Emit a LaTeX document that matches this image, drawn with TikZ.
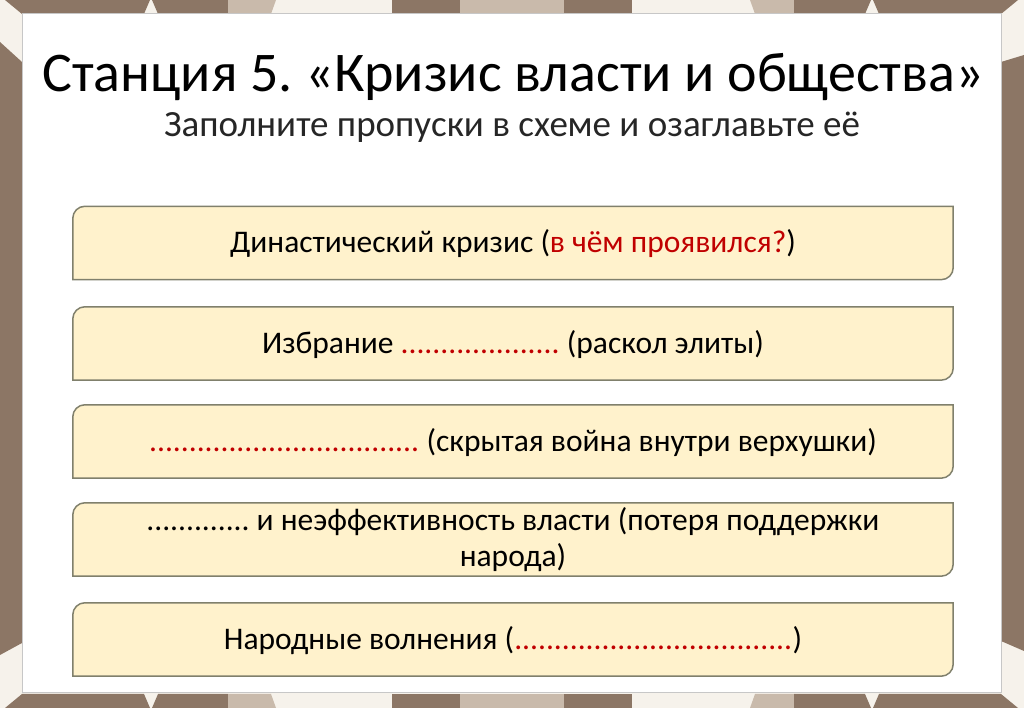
\documentclass[tikz,border=0pt]{standalone}
\usepackage{fontspec}
\setmainfont{Carlito}
\usetikzlibrary{backgrounds}
\frenchspacing
\definecolor{tbrown}{RGB}{140,118,101}
\definecolor{ttaupe}{RGB}{201,186,171}
\definecolor{tcream}{RGB}{246,242,235}
\definecolor{boxfill}{RGB}{255,242,204}
\definecolor{boxline}{RGB}{128,128,108}
\definecolor{darkred}{RGB}{192,0,0}
\newcommand\stageshape[1]{\path[boxshape] ([yshift=-12pt]#1.north west) arc[start angle=180,end angle=90,radius=12pt] -- (#1.north east) -- ([yshift=12pt]#1.south east) arc[start angle=0,end angle=-90,radius=12pt] -- (#1.south west) -- cycle;}
\begin{document}
\begin{tikzpicture}[x=1pt,y=1pt,
  stagebox/.style={minimum width=880pt, minimum height=73pt, inner sep=0pt, font=\fontsize{31.5}{36}\selectfont, align=center},
  oneline/.style={text height=24pt, text depth=4pt},
  boxshape/.style={fill=boxfill, draw=boxline, line width=1.5pt},
  strip/.style={fill=tbrown},
  stripl/.style={fill=ttaupe}]
\useasboundingbox (0,0) rectangle (1024,708);
% --- text nodes (main layer)
\node[font=\fontsize{56}{64}\selectfont, anchor=base] (title) at (513,616) {Станция 5. «Кризис власти и общества»};
\node[font=\fontsize{37}{42}\selectfont, anchor=base, text=black!85] (subtitle) at (512,571) {Заполните пропуски в схеме и озаглавьте её};
\node[stagebox,oneline] (b1) at (513,465) {Династический кризис (\textcolor{darkred}{в чём проявился?})};
\node[stagebox,oneline] (b2) at (513,364.5) {Избрание \textcolor{darkred}{....................} (раскол элиты)};
\node[stagebox,oneline] (b3) at (513,266.5) {\textcolor{darkred}{..................................} (скрытая война внутри верхушки)};
\node[stagebox] (b4) at (513,168.5) {............. и неэффективность власти (потеря поддержки\\народа)};
\node[stagebox,oneline] (b5) at (513,68.5) {Народные волнения (\textcolor{darkred}{...................................})};
\begin{scope}[on background layer]
% tile frame
\fill[tcream] (0,0) rectangle (1024,708);
\foreach \s in {1,-1}{
\begin{scope}[yshift={(\s==1 ? 0 : 708)}, yscale=\s]
\fill[strip] (5,708) -- (150,708) -- (144,694) -- (22,694) -- cycle;
\fill[strip] (152,708) -- (228,708) -- (228,694) -- (158,694) -- cycle;
\fill[stripl] (228,708) -- (276,708) -- (271,694) -- (228,694) -- cycle;
\fill[strip] (392,708) -- (460,708) -- (460,694) -- (392,694) -- cycle;
\fill[stripl] (460,708) -- (564,708) -- (564,694) -- (460,694) -- cycle;
\fill[strip] (564,708) -- (632,708) -- (632,694) -- (564,694) -- cycle;
\fill[stripl] (750,708) -- (794,708) -- (794,694) -- (755,694) -- cycle;
\fill[strip] (794,708) -- (871,708) -- (865,694) -- (794,694) -- cycle;
\fill[strip] (873,708) -- (1018,708) -- (1001,694) -- (879,694) -- cycle;
\end{scope}}
\fill[strip] (0,53) -- (22,65) -- (22,646) -- (0,666) -- cycle;
\fill[strip] (1001,67) -- (1024,57) -- (1024,653) -- (1001,646) -- cycle;
% white panel
\draw[fill=white, draw=black!22, line width=1pt] (22,15) rectangle (1001,694);
\stageshape{b1}
\stageshape{b2}
\stageshape{b3}
\stageshape{b4}
\stageshape{b5}
\end{scope}
\end{tikzpicture}
\end{document}
